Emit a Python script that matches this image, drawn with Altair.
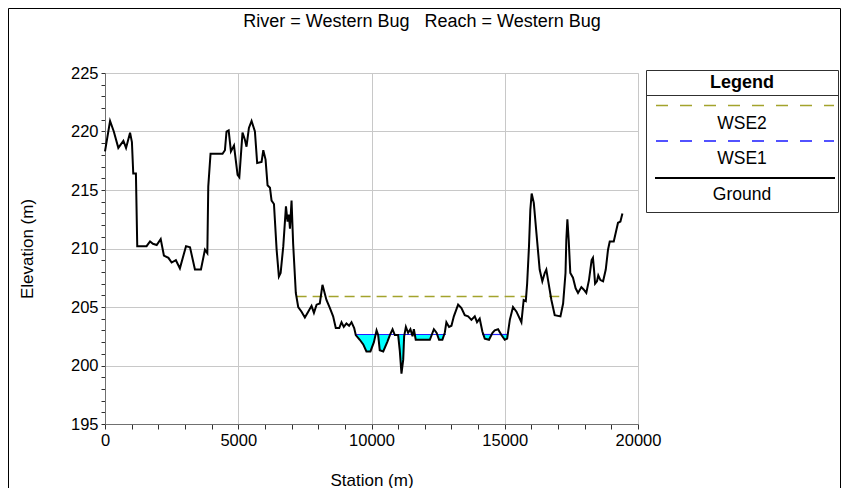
import altair as alt
import pandas as pd

# ---------------- data ----------------
station = [0, 190, 330, 500, 690, 790, 940, 1010, 1060, 1160, 1210, 1560, 1690, 1800,
           1940, 2090, 2210, 2380, 2500, 2660, 2810, 3040, 3190, 3375, 3600, 3750, 3840,
           3875, 3960, 4410, 4500, 4560, 4640, 4725, 4840, 4975, 5040, 5160, 5250, 5310,
           5400, 5500, 5625, 5710, 5875, 5940, 6025, 6100, 6190, 6250, 6340, 6440, 6525,
           6590, 6690, 6790, 6850, 6900, 6940, 7000, 7060, 7160, 7250, 7375, 7500, 7625,
           7750, 7840, 7940, 8060, 8160, 8310, 8440, 8560, 8660, 8790, 8875, 8960, 9060,
           9160, 9250, 9350, 9410, 9560, 9690, 9810, 9960, 10090, 10190, 10250, 10310,
           10440, 10590, 10690, 10790, 10875, 11000, 11060, 11125, 11190, 11225, 11290,
           11375, 11460, 11540, 11590, 11660, 12190, 12340, 12440, 12535, 12660, 12750,
           12810, 12910, 13000, 13090, 13250, 13375, 13500, 13625, 13750, 13875, 13960,
           14060, 14160, 14250, 14410, 14540, 14625, 14750, 14875, 15000, 15090, 15190,
           15310, 15440, 15625, 15710, 15790, 15840, 15910, 15960, 16010, 16090, 16190,
           16310, 16410, 16500, 16560, 16625, 16750, 16875, 17090, 17190, 17280, 17310,
           17350, 17400, 17460, 17560, 17660, 17750, 17875, 17960, 18060, 18160, 18260,
           18310, 18350, 18390, 18460, 18510, 18590, 18690, 18790, 18875, 18940, 19090,
           19190, 19250, 19340, 19415]
ground = [218.3, 220.9, 220.0, 218.6, 219.2, 218.6, 219.9, 219.1, 216.4, 216.4, 210.2,
          210.2, 210.6, 210.4, 210.3, 210.8, 209.4, 209.2, 208.8, 209.0, 208.3, 210.2,
          210.1, 208.2, 208.2, 209.9, 209.6, 215.3, 218.1, 218.1, 218.4, 220.0, 220.1,
          218.3, 218.8, 216.3, 216.1, 219.9, 219.3, 218.7, 220.3, 220.9, 220.0, 217.3,
          217.4, 218.4, 217.6, 215.4, 215.2, 214.1, 213.8, 209.9, 207.6, 207.9, 210.2,
          213.6, 212.3, 212.9, 211.7, 214.1, 210.4, 206.2, 205.0, 204.6, 204.1, 204.6,
          205.1, 204.5, 205.2, 205.3, 206.9, 205.6, 204.9, 204.2, 203.2, 203.2, 203.7,
          203.3, 203.6, 203.4, 203.7, 203.2, 202.6, 202.2, 201.8, 201.2, 201.2, 202.0,
          203.0, 202.6, 201.3, 201.2, 202.0, 202.6, 203.1, 202.6, 202.6, 201.3, 199.3,
          200.5, 202.5, 203.3, 202.8, 203.1, 202.5, 203.1, 202.2, 202.2, 203.1, 202.8,
          202.2, 202.2, 202.8, 203.7, 203.3, 203.4, 204.2, 205.2, 204.9, 204.3, 204.2,
          203.9, 204.2, 203.7, 204.0, 202.9, 202.3, 202.2, 202.8, 203.0, 203.1, 202.6,
          202.2, 202.3, 203.9, 205.0, 204.6, 203.7, 205.6, 205.5, 207.0, 210.2, 213.3,
          214.7, 213.9, 211.3, 208.2, 207.2, 207.9, 208.2, 207.3, 205.6, 204.3, 204.2,
          205.3, 207.9, 210.7, 212.5, 210.7, 207.9, 207.5, 206.6, 206.2, 206.7, 206.5,
          206.2, 207.3, 209.0, 209.2, 208.2, 207.0, 207.2, 207.7, 207.3, 207.2, 208.2,
          209.9, 210.6, 210.6, 211.6, 212.2, 212.3, 213.0]

wse1_level = 202.65
wse1_start = [9400, 14150]
wse1_end = [12790, 15110]
wse2_level = 205.9
wse2_start = [7190, 16670]
wse2_end = [15800, 17240]

x_ticks = list(range(0, 20001, 1000))
y_ticks = list(range(195, 226))
chart_title = "River = Western Bug\u00a0\u00a0\u00a0Reach = Western Bug"
legend_title = "Legend"
legend_labels = ["WSE2", "WSE1", "Ground"]

FONT = "Liberation Sans"
W, H = 533, 351

# ---------------- tables built from the arrays ----------------
ground_df = pd.DataFrame({"station": station, "elev": ground})

# wet area between WSE1 and ground (crossing points inserted)
fill_x, fill_y2 = [], []
x_lo, x_hi = min(wse1_start), max(wse1_end)
for i in range(len(station) - 1):
    xa, za, xb, zb = station[i], ground[i], station[i + 1], ground[i + 1]
    if xb < x_lo or xa > x_hi:
        continue
    fill_x.append(xa)
    fill_y2.append(min(za, wse1_level))
    if (za - wse1_level) * (zb - wse1_level) < 0:
        xc = xa + (wse1_level - za) * (xb - xa) / (zb - za)
        fill_x.append(xc)
        fill_y2.append(wse1_level)
fill_df = pd.DataFrame({"station": fill_x, "bottom": fill_y2, "top": [wse1_level] * len(fill_x)})

wse1_df = pd.DataFrame({"x0": wse1_start, "x1": wse1_end, "lvl": [wse1_level] * len(wse1_start)})
wse2_df = pd.DataFrame({"x0": wse2_start, "x1": wse2_end, "lvl": [wse2_level] * len(wse2_start)})

xscale = alt.Scale(domain=[0, 20000], nice=False, zero=False)
yscale = alt.Scale(domain=[195, 225], nice=False, zero=False)

xaxis = alt.Axis(
    values=x_ticks, format="d", title="Station (m)",
    labelExpr="datum.value % 5000 === 0 ? datum.label : ''",
    gridOpacity={"condition": {"test": "datum.value % 5000 === 0", "value": 1}, "value": 0},
    gridColor="#c8c8c8", tickSize=5, tickColor="#303030", domainColor="#707070",
    labelFont=FONT, labelFontSize=16.5, labelColor="black", labelPadding=3,
    labelOverlap=False, labelFlush=False,
    titleFont=FONT, titleFontSize=17, titleFontWeight="normal", titleColor="black",
    titleX=266.5, titleY=56, titleBaseline="middle", titleAlign="center",
)
yaxis = alt.Axis(
    values=y_ticks, format="d", title="Elevation (m)",
    labelExpr="datum.value % 5 === 0 ? datum.label : ''",
    gridOpacity={"condition": {"test": "datum.value % 5 === 0", "value": 1}, "value": 0},
    gridColor="#c8c8c8", tickSize=4, tickColor="#303030", domainColor="#707070",
    labelFont=FONT, labelFontSize=16.5, labelColor="black", labelPadding=3,
    labelOverlap=False, labelFlush=False,
    titleFont=FONT, titleFontSize=17, titleFontWeight="normal", titleColor="black",
    titleAngle=270, titleX=-78, titleY=175.5, titleBaseline="middle", titleAlign="center",
)

area = alt.Chart(fill_df).mark_area(color="#00ffff", opacity=1, interpolate="linear").encode(
    x=alt.X("station:Q", scale=xscale, axis=xaxis),
    y=alt.Y("top:Q", scale=yscale, axis=yaxis),
    y2="bottom:Q",
)
wse1 = alt.Chart(wse1_df).mark_rule(color="#2020ff", strokeWidth=1.2).encode(
    x=alt.X("x0:Q", scale=xscale, axis=xaxis), x2="x1:Q",
    y=alt.Y("lvl:Q", scale=yscale, axis=yaxis)
)
wse2 = alt.Chart(wse2_df).mark_rule(color="#a3a32c", strokeWidth=1.5, strokeDash=[10, 6]).encode(
    x=alt.X("x0:Q", scale=xscale, axis=xaxis), x2="x1:Q",
    y=alt.Y("lvl:Q", scale=yscale, axis=yaxis)
)
line = alt.Chart(ground_df).mark_line(color="black", strokeWidth=2).encode(
    x=alt.X("station:Q", scale=xscale, axis=xaxis),
    y=alt.Y("elev:Q", scale=yscale, axis=yaxis),
    order="station:Q"
)

one = pd.DataFrame({"a": [0]})

# title
title = alt.Chart(one).mark_text(font=FONT, fontSize=18, color="black", baseline="middle", align="center").encode(
    x=alt.value(317), y=alt.value(-51), text=alt.value(chart_title)
)

# outer frame
frame_top = alt.Chart(one).mark_rule(color="black", strokeWidth=1).encode(
    x=alt.value(-96.5), x2=alt.value(735.5), y=alt.value(-64.5))
frame_left = alt.Chart(one).mark_rule(color="black", strokeWidth=1).encode(
    x=alt.value(-96.5), y=alt.value(-64.5), y2=alt.value(460))
frame_right = alt.Chart(one).mark_rule(color="black", strokeWidth=1).encode(
    x=alt.value(735.5), y=alt.value(-64.5), y2=alt.value(460))

# legend box
lx0, lx1 = 541.5, 733.5
legend_box = alt.Chart(one).mark_rect(fill="white", stroke="#303030", strokeWidth=1).encode(
    x=alt.value(lx0), x2=alt.value(lx1), y=alt.value(-2.5), y2=alt.value(139.5))
legend_sep = alt.Chart(one).mark_rule(color="#303030", strokeWidth=1).encode(
    x=alt.value(lx0), x2=alt.value(lx1), y=alt.value(22.5))
legend_head = alt.Chart(one).mark_text(font=FONT, fontSize=18, fontWeight="bold", color="black").encode(
    x=alt.value(637), y=alt.value(9.5), text=alt.value(legend_title))
leg_wse2 = alt.Chart(one).mark_rule(color="#a3a32c", strokeWidth=1.5, strokeDash=[12, 12]).encode(
    x=alt.value(551), x2=alt.value(729), y=alt.value(32.5))
leg_wse1 = alt.Chart(one).mark_rule(color="#1a1aff", strokeWidth=1.5, strokeDash=[12, 12]).encode(
    x=alt.value(551), x2=alt.value(729), y=alt.value(68))
leg_ground = alt.Chart(one).mark_rule(color="black", strokeWidth=2).encode(
    x=alt.value(550), x2=alt.value(730), y=alt.value(105))
leg_t = [
    alt.Chart(one).mark_text(font=FONT, fontSize=17.5, color="black").encode(
        x=alt.value(637), y=alt.value(yy), text=alt.value(lbl))
    for lbl, yy in zip(legend_labels, [50.5, 86, 122])
]

chart = alt.layer(
    area, wse1, wse2, line, title, frame_top, frame_left, frame_right,
    legend_box, legend_sep, legend_head, leg_wse2, leg_wse1, leg_ground, *leg_t
).properties(
    width=W, height=H,
    autosize=alt.AutoSizeParams(type="none"),
    padding={"left": 97, "top": 65, "right": 203, "bottom": 64},
).configure_view(strokeWidth=0).configure(background="white")

chart.save("out.html", embed_options={"renderer": "svg", "actions": False})
